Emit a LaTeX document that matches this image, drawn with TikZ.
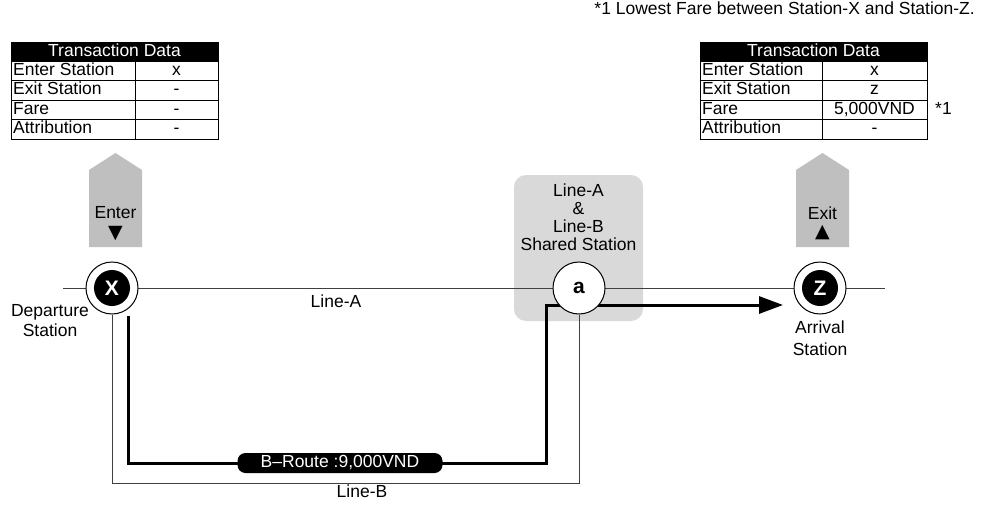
\documentclass[tikz,border=0pt]{standalone}
\usepackage{fontspec}
\setmainfont{Liberation Sans}
\newfontfamily\symbolfont{DejaVu Sans}
\usepackage{tikz}
\usetikzlibrary{arrows.meta,backgrounds,positioning}

\tikzset{
  txt/.style={font=\fontsize{17.5}{20}\selectfont, inner sep=0pt},
  cell/.style={txt, text height=12pt, text depth=3.5pt},
  hdr/.style={cell, text=white},
  station/.style={circle, draw, fill=white, line width=1pt, minimum size=52pt, inner sep=0pt},
  stationdot/.style={circle, fill=black, minimum size=36pt, inner sep=0pt, text=white, font=\fontsize{21}{22}\selectfont\bfseries},
  gatemark/.style={txt, font=\symbolfont\fontsize{19}{19}\selectfont},
  thinline/.style={line width=1pt, black!75},
  route/.style={line width=3pt, line join=miter},
  routelabel/.style={txt, fill=black, text=white, rounded corners=8pt, minimum width=205pt, minimum height=20pt},
  gate/.style={fill=black!25},
  sharedbox/.style={fill=black!15, rounded corners=12pt},
  tableline/.style={line width=1pt},
}

\begin{document}
\begin{tikzpicture}[x=1pt,y=-1pt]
\useasboundingbox (0,0) rectangle (986,506);

% footnote
\node[txt, anchor=east] (note) at (975,8) {*1 Lowest Fare between Station-X and Station-Z.};

% transaction data at entry
\fill (11,42) rectangle (218,61.5);
\draw[tableline] (11,42) rectangle (218,139);
\foreach \y in {80.9,100.3,119.7} \draw[tableline] (11,\y) -- (218,\y);
\draw[tableline] (135,61.5) -- (135,139);
\node[hdr] (lhead) at (114.5,51.75) {Transaction Data};
\node[cell, anchor=west] (lenter) at (13,71.2) {Enter Station}; \node[cell] (lenterv) at (176.5,71.2) {x};
\node[cell, anchor=west] (lexit) at (13,90.6) {Exit Station}; \node[cell] (lexitv) at (176.5,90.6) {-};
\node[cell, anchor=west] (lfare) at (13,110) {Fare}; \node[cell] (lfarev) at (176.5,110) {-};
\node[cell, anchor=west] (lattr) at (13,129.4) {Attribution}; \node[cell] (lattrv) at (176.5,129.4) {-};

% transaction data at exit
\fill (700,42) rectangle (927,61.5);
\draw[tableline] (700,42) rectangle (927,139);
\foreach \y in {80.9,100.3,119.7} \draw[tableline] (700,\y) -- (927,\y);
\draw[tableline] (822,61.5) -- (822,139);
\node[hdr] (rhead) at (813.5,51.75) {Transaction Data};
\node[cell, anchor=west] (renter) at (702,71.2) {Enter Station}; \node[cell] (renterv) at (874.5,71.2) {x};
\node[cell, anchor=west] (rexit) at (702,90.6) {Exit Station}; \node[cell] (rexitv) at (874.5,90.6) {z};
\node[cell, anchor=west] (rfare) at (702,110) {Fare}; \node[cell] (rfarev) at (874.5,110) {5,000VND};
\node[cell, anchor=west] (rattr) at (702,129.4) {Attribution}; \node[cell] (rattrv) at (874.5,129.4) {-};
\node[cell, anchor=west] (rmark) at (935,110) {*1};

% gates
\fill[gate] (89,247) -- (89,170) -- (115.5,153) -- (142,170) -- (142,247) -- cycle;
\node[txt] (enter) at (115.5,213) {Enter};
\node[gatemark] (entermark) at (115.5,234) {▼};
\fill[gate] (796,247) -- (796,170) -- (822.5,153) -- (849,170) -- (849,247) -- cycle;
\node[txt] (exit) at (822.5,213) {Exit};
\node[gatemark] (exitmark) at (822.5,233) {▲};

% stations
\node[station] (X) at (112,288) {};
\node[stationdot] (Xdot) at (X) {X};
\node[station, font=\fontsize{21}{22}\selectfont\bfseries] (a) at (579,288) {a};
\node[station] (Z) at (820,288) {};
\node[stationdot] (Zdot) at (Z) {Z};

\node[txt, font=\fontsize{17.5}{18}\selectfont, align=center] (shared) at (578.5,217) {Line-A\\\&\\Line-B\\Shared Station};
\node[txt, align=center] (depart) at (50,321) {Departure\\Station};
\node[txt, align=center] (arrive) at (820,338) {Arrival\\[2pt]Station};

% lines
\coordinate (la0) at (63,288);
\coordinate (la1) at (885,288);
\coordinate (lb) at (0,483);
\coordinate (r0) at (128,316);
\coordinate (r1) at (128,463);
\coordinate (r2) at (546,463);
\coordinate (r3) at (546,305);
\coordinate (r4) at (783,305);
\begin{pgfonlayer}{background}
\fill[sharedbox] (514,175) rectangle (643,321);
\draw[thinline] (la0) -- (la1);
\draw[thinline] (X.south) -- (X.south |- lb) -| (a.south);
\draw[route, -{Triangle[length=24pt,width=17pt]}] (r0) -- (r1) -- (r2) -- (r3) -- (r4);
\end{pgfonlayer}

\node[routelabel] (broute) at (340,463) {B--Route :9,000VND};
\node[txt] (lineA) at (336,301) {Line-A};
\node[txt] (lineB) at (362,491) {Line-B};
\end{tikzpicture}
\end{document}
